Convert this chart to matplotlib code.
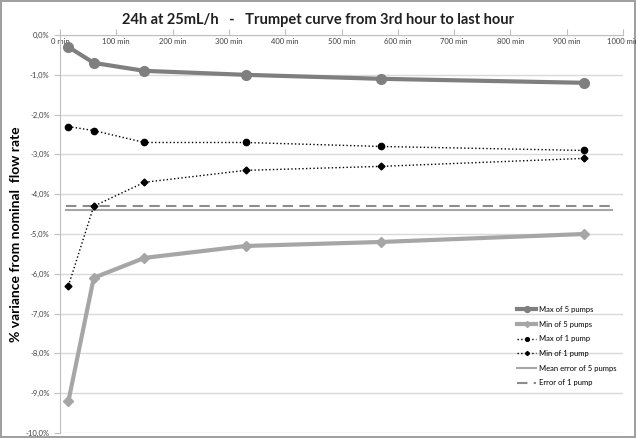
import numpy as np
import matplotlib.pyplot as plt
from matplotlib.ticker import FuncFormatter

plt.rcParams['font.family'] = ['Lato', 'DejaVu Sans']

# time points (minutes)
minutes = [15, 60, 150, 330, 570, 930]

# % variance from nominal flow rate
max5 = [-0.3, -0.7, -0.9, -1.0, -1.1, -1.2]
min5 = [-9.2, -6.1, -5.6, -5.3, -5.2, -5.0]
max1 = [-2.3, -2.4, -2.7, -2.7, -2.8, -2.9]
min1 = [-6.3, -4.3, -3.7, -3.4, -3.3, -3.1]
mean_err5 = -4.4
err1 = -4.3
ref_span = [10, 980]

fig = plt.figure(figsize=(6.36, 4.38), dpi=100)
fig.patch.set_edgecolor('#a0a0a0')
fig.patch.set_linewidth(1.5)
ax = fig.add_axes([0.0943, 0.0114, 0.8853, 0.9086])

ax.plot(minutes, max5, color='#7f7f7f', lw=3, marker='o', ms=7, label='Max of 5 pumps', zorder=4)
ax.plot(minutes, min5, color='#a6a6a6', lw=3, marker='D', ms=5, label='Min of 5 pumps', zorder=4)
ax.plot(minutes, max1, color='black', lw=1, ls=':', marker='o', ms=4.5, label='Max of 1 pump', zorder=5)
ax.plot(minutes, min1, color='black', lw=1, ls=':', marker='D', ms=3.5, label='Min of 1 pump', zorder=5)
ax.plot(ref_span, [mean_err5, mean_err5], color='#a6a6a6', lw=1.5, label='Mean error of 5 pumps', zorder=3)
ax.plot(ref_span, [err1, err1], color='#8c8c8c', lw=1.5, ls=(0, (5, 3)), label='Error of 1 pump', zorder=3)

ax.set_xlim(0, 1000)
ax.set_ylim(-10, 0)
ax.set_xticks(np.arange(0, 1001, 100))
ax.set_yticks(np.arange(-10, 0.1, 1))
ax.xaxis.set_major_formatter(FuncFormatter(lambda v, p: '%d min' % v))
ax.yaxis.set_major_formatter(FuncFormatter(lambda v, p: ('%.1f%%' % v).replace('.', ',')))

ax.grid(axis='y', color='#d9d9d9', lw=1)
ax.set_axisbelow(True)
for s in ['right', 'bottom']:
    ax.spines[s].set_visible(False)
ax.spines['top'].set_color('#bfbfbf')
ax.spines['left'].set_color('#bfbfbf')

ax.tick_params(axis='x', top=True, labeltop=True, bottom=False, labelbottom=False,
               direction='out', length=4, color='#bfbfbf', pad=-11,
               labelsize=5.5, labelcolor='#404040')
ax.tick_params(axis='y', direction='out', length=4, color='#bfbfbf',
               labelsize=5.5, labelcolor='#404040')

fig.text(0.5, 0.955, '24h at 25mL/h   -   Trumpet curve from 3rd hour to last hour',
         ha='center', va='center', fontsize=10.5, fontweight='bold', color='#202020')
ax.set_ylabel('% variance from nominal  flow rate', fontsize=10, fontweight='bold')
ax.yaxis.set_label_coords(-0.068, 0.5)

ax.legend(loc='lower right', bbox_to_anchor=(1.0, 0.1), frameon=False, fontsize=5.5,
          handlelength=2.5, labelspacing=1.0, handletextpad=0.3, markerscale=0.6)

fig.savefig('out.png', dpi=100)
